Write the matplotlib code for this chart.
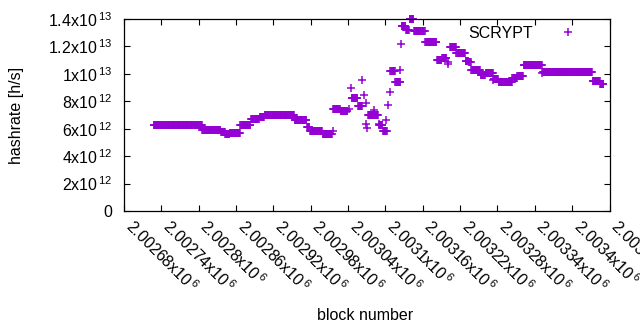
import numpy as np
import matplotlib
matplotlib.use('Agg')
import matplotlib.pyplot as plt

plt.rcParams['font.family'] = ['Liberation Sans', 'DejaVu Sans']
plt.rcParams['mathtext.fontset'] = 'custom'
plt.rcParams['mathtext.rm'] = 'Liberation Sans'
plt.rcParams['mathtext.default'] = 'regular'

# plateaus of constant hashrate: first block, last block, value [1e12 h/s]
seg_start = [2002728, 2002806, 2002836, 2002843, 2002850, 2002867, 2002884, 2002898,
             2002906, 2002954, 2002974, 2002979, 2002999, 2003016, 2003028, 2003046,
             2003056, 2003072, 2003090, 2003096, 2003108, 2003116, 2003126, 2003133,
             2003139, 2003146, 2003164, 2003183, 2003191, 2003204, 2003214, 2003229,
             2003234, 2003238, 2003253, 2003261, 2003274, 2003282, 2003304, 2003312,
             2003322, 2003353, 2003433, 2003445]
seg_end = [2002805, 2002835, 2002842, 2002849, 2002866, 2002883, 2002897, 2002905,
           2002953, 2002973, 2002978, 2002998, 2003014, 2003027, 2003039, 2003055,
           2003062, 2003088, 2003095, 2003102, 2003115, 2003124, 2003132, 2003138,
           2003145, 2003163, 2003182, 2003190, 2003198, 2003213, 2003228, 2003233,
           2003237, 2003252, 2003260, 2003273, 2003281, 2003303, 2003311, 2003321,
           2003351, 2003432, 2003444, 2003450]
seg_value = [6.25, 5.88, 5.74, 5.59, 5.67, 6.25, 6.69, 6.89,
             6.98, 6.61, 6.16, 5.81, 5.65, 7.42, 7.28, 8.22,
             7.62, 6.97, 6.29, 5.84, 10.19, 9.38, 13.47, 13.22,
             13.98, 13.11, 12.30, 10.98, 11.12, 11.93, 11.50, 10.92,
             10.83, 10.25, 9.92, 10.03, 9.65, 9.43, 9.68, 9.87,
             10.61, 10.10, 9.47, 9.29]

# single scattered blocks
iso_block = [2003015, 2003042, 2003045, 2003063, 2003065, 2003068, 2003069, 2003071,
             2003082, 2003089, 2003101, 2003104, 2003107, 2003124, 2003125, 2003200,
             2003201, 2003273, 2003352]
iso_value = [5.84, 7.42, 8.95, 9.53, 8.46, 7.88, 6.37, 6.08,
             7.38, 6.32, 6.67, 7.70, 8.70, 10.28, 12.16, 10.89,
             10.69, 9.55, 10.04]

xticks = list(range(2002680, 2003461, 60))
yticks = [0, 2e12, 4e12, 6e12, 8e12, 1e13, 1.2e13, 1.4e13]


def sci_label(v):
    if v == 0:
        return '0'
    e = int(np.floor(np.log10(v)))
    m = v / 10 ** e
    return '%gx10$^{\\,%d}$' % (round(m, 6), e)


blocks = []
rates = []
for s, e, v in zip(seg_start, seg_end, seg_value):
    for b in range(s, e + 1):
        blocks.append(b)
        rates.append(v * 1e12)
blocks += iso_block
rates += [v * 1e12 for v in iso_value]

fig = plt.figure(figsize=(6.4, 3.3), dpi=100)
ax = fig.add_axes([124 / 640, 119 / 330, 485.5 / 640, 192 / 330])
ax.plot(blocks, rates, '+', color='#9400d3', markersize=5.4, markeredgewidth=1.1,
        label='SCRYPT', clip_on=False)

ax.set_xlim(2002680, 2003460)
ax.set_ylim(0, 1.4e13)
ax.set_xticks(xticks)
ax.set_xticklabels([sci_label(t) for t in xticks], rotation=-45, ha='left',
                   va='baseline', rotation_mode='anchor')
ax.set_yticks(yticks)
ax.set_yticklabels([sci_label(t) for t in yticks])
ax.tick_params(direction='in', top=True, right=True, length=4.5, width=0.8,
               labelsize=11.5)
ax.tick_params(axis='x', pad=12.2)
ax.tick_params(axis='y', pad=8.5)
for sp in ax.spines.values():
    sp.set_linewidth(0.9)

ax.set_xlabel('block number', fontsize=11.5)
ax.xaxis.set_label_coords(0.497, -0.505)
ax.set_ylabel('hashrate [h/s]', fontsize=11.5)
ax.yaxis.set_label_coords(-0.205, 0.5)
ax.legend(loc='upper right', bbox_to_anchor=(0.955, 0.965), frameon=False,
          markerfirst=False, fontsize=11.5, handlelength=2.5, handletextpad=0.9,
          borderpad=0, borderaxespad=0)

fig.savefig('out.png', dpi=100)
